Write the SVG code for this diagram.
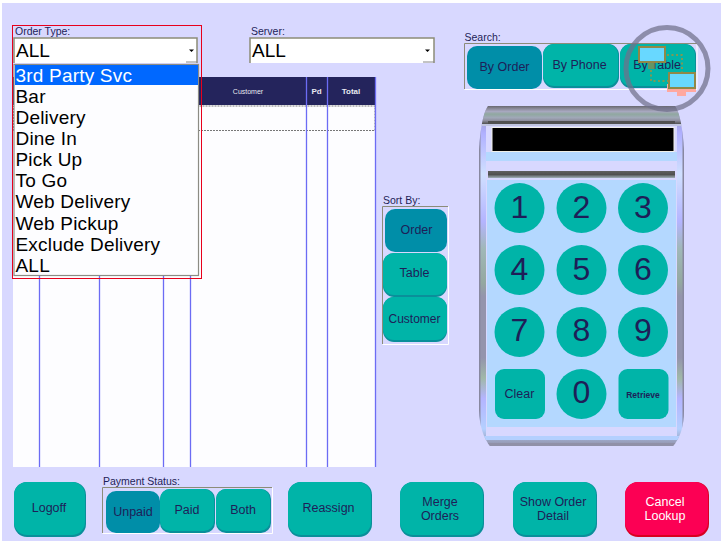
<svg xmlns="http://www.w3.org/2000/svg" width="724" height="544" viewBox="0 0 724 544">
<defs>
<style>
text{font-family:"Liberation Sans",Arial,sans-serif;fill:#1e1e58}
.lbl{font-size:10.500px}
.b{font-size:12.500px;text-anchor:middle}
.key{font-size:32px;text-anchor:middle}
.item{font-size:19px;fill:#000;letter-spacing:.2px}
.big{fill:#00b4a8;stroke:none}
.shadow{fill:#0a8f9a}
.sel{fill:#008ea8}
.panel{fill:none;stroke:#8c8c78;stroke-width:1}
.panelw{fill:none;stroke:#fff;stroke-width:1}
.grid{stroke:#6c6cf4;stroke-width:1.300;fill:none}
.white{fill:#fff}
</style>
<linearGradient id="side" x1="0" x2="0" y1="106" y2="446" gradientUnits="userSpaceOnUse">
<stop offset="0" stop-color="#9090b0"/><stop offset=".08" stop-color="#b0b0ff"/><stop offset=".2" stop-color="#d0e0ff"/><stop offset=".34" stop-color="#b4b4ff"/><stop offset=".42" stop-color="#a0b8b8"/><stop offset=".52" stop-color="#94a8a0"/><stop offset=".56" stop-color="#9494ac"/><stop offset=".74" stop-color="#9494ac"/><stop offset=".8" stop-color="#a0b8a8"/><stop offset=".86" stop-color="#b4b4ff"/><stop offset=".95" stop-color="#b4d0ff"/><stop offset="1" stop-color="#9090a8"/>
</linearGradient>
<linearGradient id="topband" x1="0" x2="0" y1="0" y2="1">
<stop offset="0" stop-color="#686870"/><stop offset=".15" stop-color="#8a8a98"/><stop offset=".3" stop-color="#a8a8c0"/><stop offset=".45" stop-color="#90a8a0"/><stop offset=".65" stop-color="#a0a8b8"/><stop offset=".8" stop-color="#9090a0"/><stop offset="1" stop-color="#505050"/>
</linearGradient>
<linearGradient id="midband" x1="0" x2="0" y1="0" y2="1">
<stop offset="0" stop-color="#606060"/><stop offset=".5" stop-color="#505050"/><stop offset="1" stop-color="#a0b0b8"/>
</linearGradient>
<clipPath id="bodyclip"><path d="M488 106H675Q682 116 684 150V410Q684 434 673 446H490Q480 434 479 410V150Q481 116 488 106Z"/></clipPath>
</defs>
<rect width="724" height="544" fill="#fff"/>
<rect x="2" y="3" width="719" height="538" fill="#d8d8ff"/>

<g id="order-table">
<rect x="13" y="77" width="363" height="390" fill="#fdfdff"/>
<rect x="13" y="77" width="363" height="28" fill="#24245c"/>
<rect x="13.500" y="106" width="361.500" height="24.500" fill="none" stroke="#777" stroke-width="1" stroke-dasharray="2 1"/>
<g class="grid">
<path d="M39.500 77V467M99.500 77V467M163.500 77V467M190.500 77V467M306.500 77V467M327.500 77V467M375.500 77V467"/>
</g>
<text x="248" y="93.500" font-size="7" text-anchor="middle" style="fill:#e8e8f0">Customer</text>
<text x="316.500" y="94" font-size="8" font-weight="bold" text-anchor="middle" style="fill:#e8e8f0">Pd</text>
<text x="351" y="94" font-size="8" font-weight="bold" text-anchor="middle" style="fill:#e8e8f0">Total</text>
</g>

<g id="order-type">
<text class="lbl" x="15" y="35">Order Type:</text>
<rect x="14" y="38" width="183" height="25" fill="#fff"/>
<path d="M14 63V38H197V63" fill="none" stroke="#8c8c78" stroke-width="1.500"/>
<path d="M186 62H197" stroke="#888" stroke-width="1"/>
<path d="M189 49.500h5l-2.500 2.500z" fill="#000"/>
<text x="16" y="57" font-size="19" style="fill:#000">ALL</text>
<rect x="14" y="64.500" width="184.500" height="211" fill="#fdfdff" stroke="#8c8c84" stroke-width="1.200"/>
<rect x="15" y="65" width="183" height="20" fill="#0068ff"/>
<text class="item" x="15.500" y="82" style="fill:#fff">3rd Party Svc</text>
<text class="item" x="15.500" y="103">Bar</text>
<text class="item" x="15.500" y="124">Delivery</text>
<text class="item" x="15.500" y="145">Dine In</text>
<text class="item" x="15.500" y="166">Pick Up</text>
<text class="item" x="15.500" y="187">To Go</text>
<text class="item" x="15.500" y="208">Web Delivery</text>
<text class="item" x="15.500" y="229.500">Web Pickup</text>
<text class="item" x="15.500" y="250.500">Exclude Delivery</text>
<text class="item" x="15.500" y="271.500">ALL</text>
<rect x="12.500" y="25.500" width="189" height="253" fill="none" stroke="#e8001c" stroke-width="1"/>
</g>

<g id="server">
<text class="lbl" x="251" y="35">Server:</text>
<rect x="250" y="38" width="184" height="25" fill="#fff"/>
<path d="M250 63V38H434V63" fill="none" stroke="#8c8c78" stroke-width="1.500"/>
<path d="M423 62H434" stroke="#888"/>
<path d="M425 49.500h5l-2.500 2.500z" fill="#000"/>
<text x="252" y="57" font-size="19" style="fill:#000">ALL</text>
</g>

<g id="search">
<text class="lbl" x="464.500" y="41">Search:</text>
<path d="M464.500 89V43.500H697" class="panel"/>
<path d="M464.500 89.500H697V43.500" class="panelw"/>
<rect x="467" y="46" width="75" height="43" rx="10" class="sel"/>
<text class="b" x="504.500" y="71">By Order</text>
<rect x="543" y="44" width="76" height="44" rx="11" class="shadow"/>
<rect x="543" y="44" width="75" height="42" rx="11" class="big"/>
<text class="b" x="579.500" y="69">By Phone</text>
<rect x="620" y="44" width="76" height="44" rx="11" class="shadow"/>
<rect x="620" y="44" width="75" height="42" rx="11" class="big"/>
<text class="b" x="657" y="69">By Table</text>
</g>

<g id="keypad">
<g clip-path="url(#bodyclip)">
<rect x="479" y="106" width="205" height="340" fill="url(#side)"/>
<rect x="479" y="106" width="1.500" height="340" fill="#8888a0"/>
<rect x="682.500" y="106" width="1.500" height="340" fill="#8888a0"/>
<rect x="486" y="108" width="191" height="328" fill="#d8d8ff"/>
<rect x="479" y="106" width="205" height="18" fill="url(#topband)"/>
<rect x="479" y="124" width="205" height="2" fill="#c0c4e0"/>
<rect x="486" y="152" width="191" height="9" fill="#b4d8ff"/>
<rect x="487" y="180" width="189" height="247" fill="#b4d8ff"/>
<rect x="484" y="436" width="195" height="4" fill="#b4d0ff"/>
<rect x="479" y="443" width="205" height="3" fill="#9090a8"/>
</g>
<rect x="488" y="121" width="187" height="3" fill="#505050"/>
<rect x="492" y="127.500" width="182" height="24" fill="#000" stroke="#f0f0e8" stroke-width="1"/>
<rect x="488" y="171" width="187" height="7" fill="url(#midband)"/>
<g>
<circle cx="519.500" cy="208" r="25" class="big"/><circle cx="581.500" cy="208" r="25" class="big"/><circle cx="643" cy="208" r="25" class="big"/>
<circle cx="519.500" cy="270" r="25" class="big"/><circle cx="581.500" cy="270" r="25" class="big"/><circle cx="643" cy="270" r="25" class="big"/>
<circle cx="519.500" cy="332" r="25" class="big"/><circle cx="581.500" cy="332" r="25" class="big"/><circle cx="643" cy="332" r="25" class="big"/>
<rect x="495" y="369" width="50" height="50" rx="9" class="big"/>
<circle cx="581.500" cy="394" r="25" class="big"/>
<rect x="618.500" y="369" width="50" height="50" rx="9" class="big"/>
</g>
<text class="key" x="519.500" y="218">1</text><text class="key" x="581.500" y="218">2</text><text class="key" x="643" y="218">3</text>
<text class="key" x="519.500" y="280">4</text><text class="key" x="581.500" y="280">5</text><text class="key" x="643" y="280">6</text>
<text class="key" x="519.500" y="341">7</text><text class="key" x="581.500" y="341">8</text><text class="key" x="643" y="341">9</text>
<text class="key" x="581.500" y="403">0</text>
<text class="b" x="519.500" y="398">Clear</text>
<text x="643" y="398" font-size="8.500" font-weight="bold" text-anchor="middle">Retrieve</text>
</g>

<g id="sort-by">
<text class="lbl" x="383" y="204">Sort By:</text>
<path d="M382.500 344V206.500H448" class="panel"/>
<path d="M382.500 344.500H448.500V206.500" class="panelw"/>
<rect x="385" y="209" width="62" height="43" rx="10" class="sel"/>
<text class="b" x="416.500" y="234">Order</text>
<rect x="383" y="253" width="64" height="44" rx="11" class="shadow"/>
<rect x="383" y="253" width="64" height="42" rx="11" class="big"/>
<text class="b" x="414.500" y="277">Table</text>
<rect x="383" y="297" width="64" height="45" rx="11" class="shadow"/>
<rect x="383" y="297" width="64" height="43" rx="11" class="big"/>
<text class="b" x="414.500" y="322.500" style="font-size:12px">Customer</text>
</g>

<g id="payment-status">
<text class="lbl" x="103" y="485">Payment Status:</text>
<path d="M102.500 533V487.500H272" class="panel"/>
<path d="M102.500 533.500H272.500V487.500" class="panelw"/>
<rect x="106" y="491" width="54" height="42" rx="10" class="sel"/>
<text class="b" x="133" y="516">Unpaid</text>
<rect x="160" y="489" width="55" height="44" rx="10" class="shadow"/>
<rect x="160" y="489" width="54" height="42" rx="10" class="big"/>
<text class="b" x="187" y="514">Paid</text>
<rect x="216" y="489" width="55" height="44" rx="10" class="shadow"/>
<rect x="216" y="489" width="54" height="42" rx="10" class="big"/>
<text class="b" x="243" y="514">Both</text>
</g>

<g id="logoff"><rect x="14" y="482" width="72" height="55" rx="13" class="shadow"/><rect x="14" y="482" width="71" height="53" rx="13" class="big"/><text class="b" x="49" y="512">Logoff</text></g>
<g id="reassign"><rect x="288" y="482" width="84" height="55" rx="13" class="shadow"/><rect x="288" y="482" width="83" height="53" rx="13" class="big"/><text class="b" x="328.500" y="512">Reassign</text></g>
<g id="merge-orders"><rect x="400" y="482" width="84" height="55" rx="13" class="shadow"/><rect x="400" y="482" width="83" height="53" rx="13" class="big"/><text class="b" x="440" y="505.500">Merge</text><text class="b" x="440" y="519.500">Orders</text></g>
<g id="show-order-detail"><rect x="513" y="482" width="84" height="55" rx="13" class="shadow"/><rect x="513" y="482" width="83" height="53" rx="13" class="big"/><text class="b" x="553" y="505.500">Show Order</text><text class="b" x="553" y="519.500">Detail</text></g>
<g id="cancel-lookup"><rect x="625" y="482" width="84" height="55" rx="13" fill="#d80020"/><rect x="625" y="482" width="83" height="53" rx="13" fill="#fc0054"/><text class="b white" x="665" y="505.500">Cancel</text><text class="b white" x="665" y="519.500">Lookup</text></g>

<g id="watermark">
<circle cx="667" cy="68.500" r="41" fill="none" stroke="#70708a" stroke-opacity=".72" stroke-width="5"/>
<path d="M667 55H682V72M651 70V81H668" fill="none" stroke="#a89038" stroke-width="1.500" stroke-dasharray="2 2.500"/>
<rect x="639" y="47" width="26" height="15" fill="#68d8ff" stroke="#908848" stroke-width="2"/>
<rect x="648" y="63" width="7" height="6" fill="#908848" fill-opacity=".7"/>
<rect x="667" y="84" width="29" height="8" fill="#ffa8a0"/>
<rect x="677" y="92" width="9" height="4" fill="#ffa8a0"/>
<rect x="669" y="73" width="26" height="15" fill="#68d8ff" stroke="#908848" stroke-width="2"/>
</g>
</svg>
